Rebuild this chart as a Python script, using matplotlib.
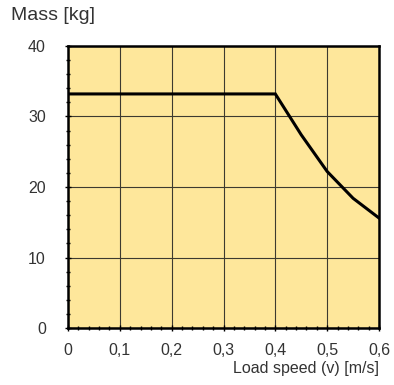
import matplotlib
matplotlib.use("Agg")
import matplotlib.pyplot as plt
from matplotlib.ticker import MultipleLocator

speed = [0.0, 0.4, 0.45, 0.5, 0.55, 0.6]
mass = [33.2, 33.2, 27.4, 22.2, 18.4, 15.6]
xticks = [0, 0.1, 0.2, 0.3, 0.4, 0.5, 0.6]
xticklabels = ["0", "0,1", "0,2", "0,3", "0,4", "0,5", "0,6"]
yticks = [0, 10, 20, 30, 40]
yticklabels = ["0", "10", "20", "30", "40"]

plt.rcParams['font.family'] = ['Liberation Sans', 'DejaVu Sans']
fig = plt.figure(figsize=(3.94, 3.85), dpi=100)
ax = fig.add_axes([68/394, 1 - 328/385, (379-68)/394, (328-46)/385])
ax.set_facecolor('#FEE79B')
ax.plot(speed, mass, color='black', lw=2.2, solid_joinstyle='miter', zorder=3)
ax.set_xlim(0, 0.6)
ax.set_ylim(0, 40)
ax.set_xticks(xticks)
ax.set_xticklabels(xticklabels)
ax.set_yticks(yticks)
ax.set_yticklabels(yticklabels)
ax.xaxis.set_minor_locator(MultipleLocator(0.02))
ax.yaxis.set_minor_locator(MultipleLocator(2))
ax.grid(True, which='major', color='#3d3a30', lw=0.8)
ax.set_axisbelow(True)
for s in ax.spines.values():
    s.set_linewidth(1.8)
ax.tick_params(which='major', direction='inout', length=4, width=1, labelsize=11.5, colors='black', labelcolor='#333333')
ax.tick_params(axis='x', which='major', pad=9)
ax.tick_params(axis='y', which='major', pad=14)
ax.tick_params(which='minor', direction='inout', length=3.5, width=1, colors='black')
fig.text(11/394, 1 - 16/385, "Mass [kg]", fontsize=14, color='#333333', va='center', ha='left')
fig.text(379/394, 1 - 369/385, "Load speed (v) [m/s]", fontsize=11.5, color='#333333', va='center', ha='right')
fig.savefig("out.png", dpi=100)
